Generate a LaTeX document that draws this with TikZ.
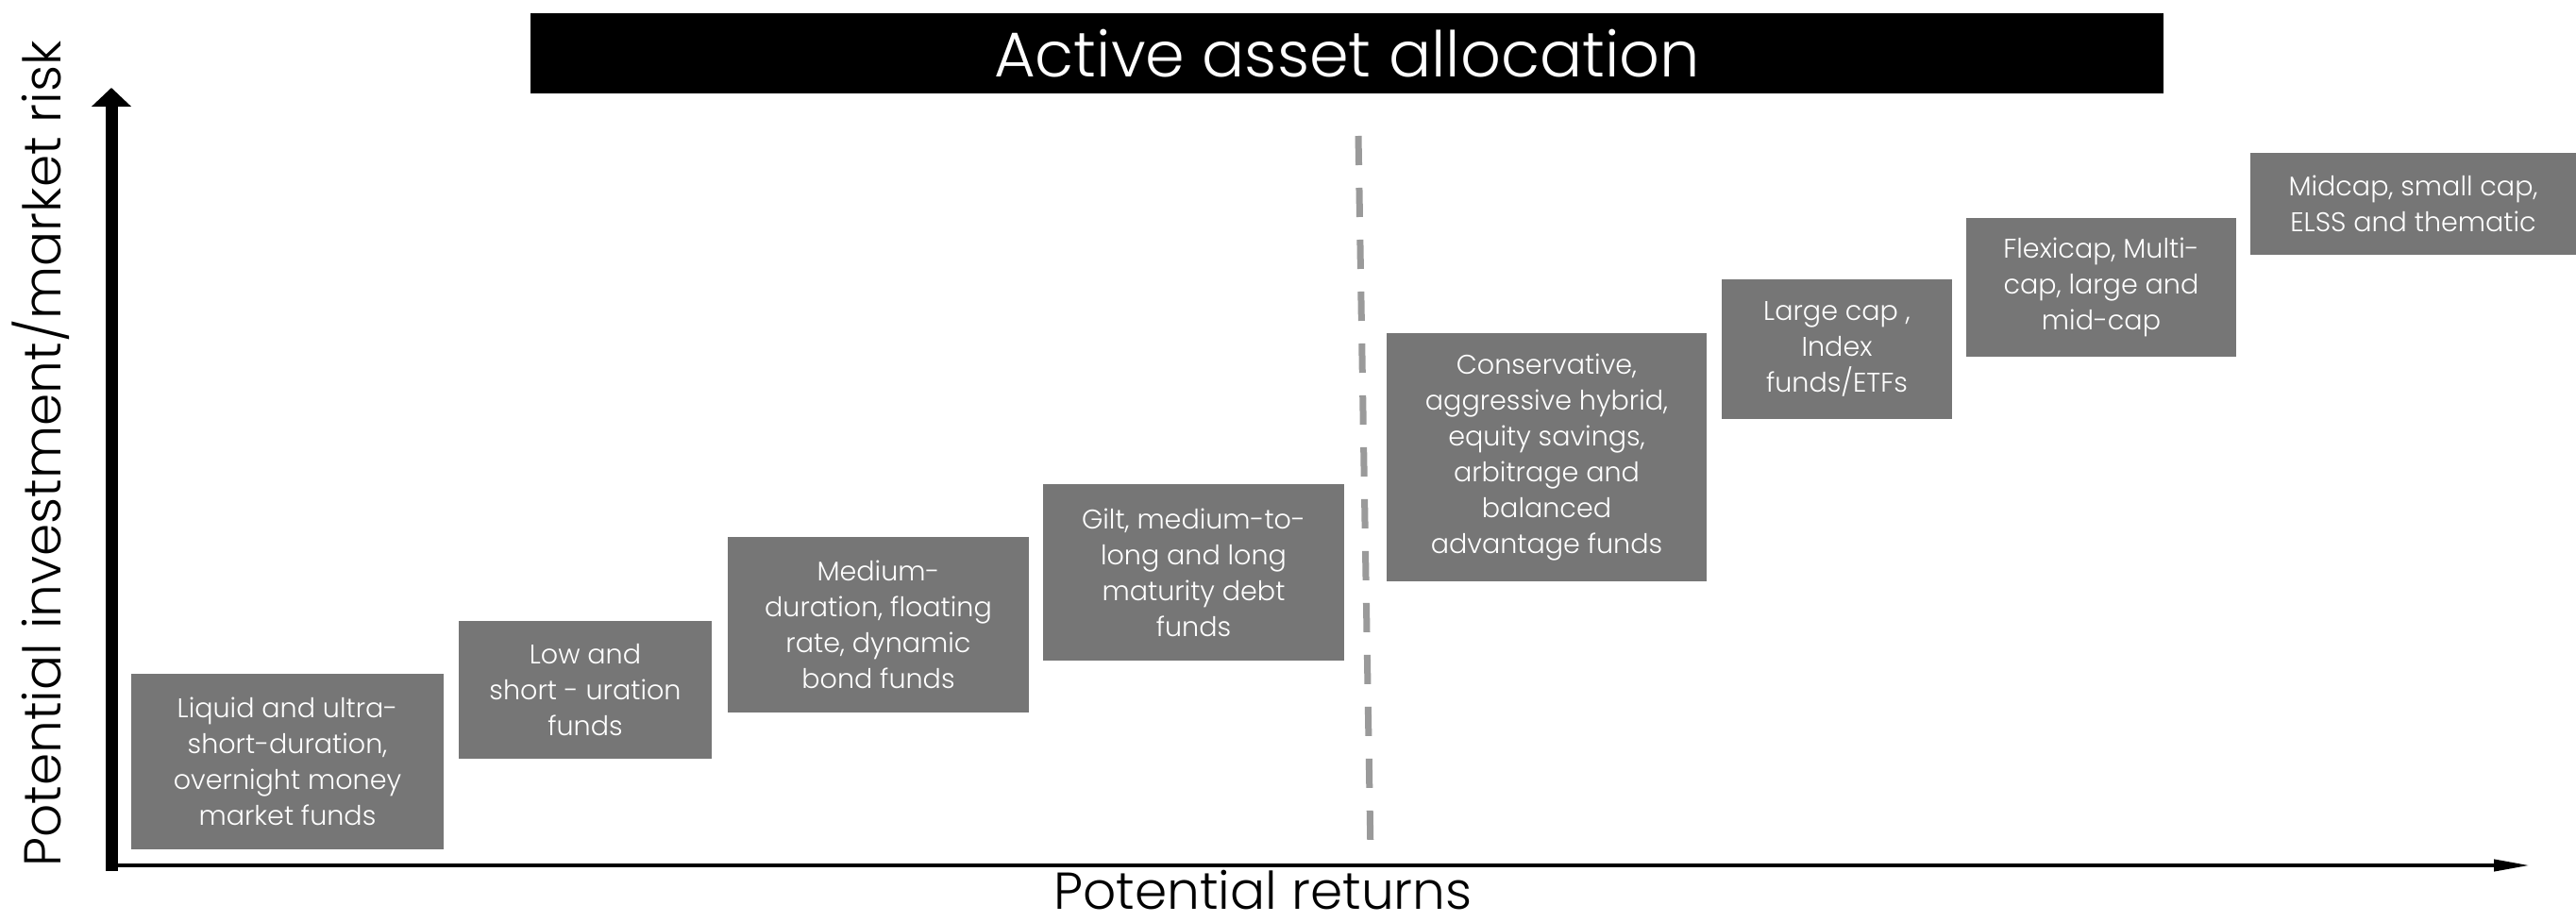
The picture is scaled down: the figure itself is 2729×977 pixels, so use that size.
\documentclass[tikz,border=0pt]{standalone}
\usepackage{fontspec}
\setmainfont{Poppins}
\newfontfamily\lightfont{Poppins Light}
\usetikzlibrary{arrows.meta}
\definecolor{boxgray}{HTML}{767676}
\definecolor{dashgray}{HTML}{9A9A9A}
\begin{document}
\begin{tikzpicture}[x=0.5pt,y=-0.5pt,
  fund/.style={fill=boxgray, text=white, inner sep=0pt, align=center,
    font=\lightfont\fontsize{14.3pt}{19pt}\selectfont},
  bx/.style 2 args={minimum width=#1*0.5pt, minimum height=#2*0.5pt},
  axislabel/.style={font=\lightfont\fontsize{27.5pt}{30pt}\selectfont, inner sep=0pt}]
\useasboundingbox (0,0) rectangle (2729,977);
% title
\node[fill=black, text=white, inner sep=0pt, minimum width=865pt, minimum height=42.5pt,
  font=\lightfont\fontsize{33.5pt}{36pt}\selectfont] (title) at (1427,56.5) {Active asset allocation};
% axes
\coordinate (origin) at (118,923);
\coordinate (ytip) at (118,93);
\coordinate (xstart) at (118,917);
\coordinate (xtip) at (2680,917);
\draw[line width=6.5pt, -{Triangle[width=20.5pt,length=10pt]}] (origin) -- (ytip);
\draw[line width=2pt, -{Triangle[width=6pt,length=19pt]}] (xstart) -- (xtip);
\node[axislabel, rotate=90, anchor=base] (ylab) at (64,481) {Potential investment/market risk};
\node[axislabel, anchor=base, text depth=0pt] (xlab) at (1338,963) {Potential returns};
% dashed divider
\coordinate (dtop) at (1439,144);
\coordinate (dbot) at (1452,905);
\draw[dashgray, line width=3.5pt, dash pattern=on 15.5pt off 12pt] (dtop) -- (dbot);
% fund boxes
\node[fund, bx={331}{186}] (b1) at (304.5,807) {Liquid and ultra-\\short-duration,\\overnight money\\market funds};
\node[fund, bx={268}{146}] (b2) at (620,731) {Low and\\short - uration\\funds};
\node[fund, bx={319}{186}] (b3) at (930.5,662) {Medium-\\duration, floating\\rate, dynamic\\bond funds};
\node[fund, bx={319}{187}] (b4) at (1264.5,606.5) {Gilt, medium-to-\\long and long\\maturity debt\\funds};
\node[fund, bx={339}{263}] (b5) at (1638.5,484.5) {Conservative,\\aggressive hybrid,\\equity savings,\\arbitrage and\\balanced\\advantage funds};
\node[fund, bx={244}{148}] (b6) at (1946,370) {Large cap ,\\Index\\funds/ETFs};
\node[fund, bx={286}{147}] (b7) at (2226,304.5) {Flexicap, Multi-\\cap, large and\\mid-cap};
\node[fund, bx={345}{108}] (b8) at (2556.5,216) {Midcap, small cap,\\ELSS and thematic};
\end{tikzpicture}
\end{document}
